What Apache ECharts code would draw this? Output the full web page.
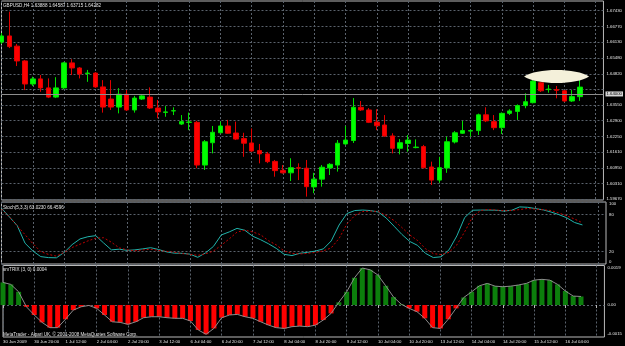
<!DOCTYPE html>
<html>
<head>
<meta charset="utf-8">
<script src="https://cdn.jsdelivr.net/npm/echarts@6/dist/echarts.min.js"></script>
<style>
  html, body { margin: 0; padding: 0; background: #000; }
  #chart { width: 625px; height: 346px; }
</style>
</head>
<body>
<div id="chart"></div>
<script>
  // GBPUSD H4 candles, 30 Jun 04:00 .. 16 Jul 12:00
  const opens = [1.6614, 1.6639, 1.6597, 1.6536, 1.6441, 1.6462, 1.6425, 1.6387, 1.6425, 1.6528,
    1.6507, 1.6484, 1.6486, 1.6429, 1.6379, 1.6346, 1.6399, 1.6334, 1.6379, 1.6387,
    1.6342, 1.6324, 1.6330, 1.6276, 1.6283, 1.6283, 1.6107, 1.6199, 1.6240, 1.6268,
    1.6239, 1.6216, 1.6198, 1.6167, 1.6153, 1.6122, 1.6085, 1.6075, 1.6096, 1.6094,
    1.6017, 1.6049, 1.6095, 1.6107, 1.6194, 1.6208, 1.6345, 1.6334, 1.6284, 1.6272,
    1.6227, 1.6176, 1.6196, 1.6179, 1.6183, 1.6099, 1.6045, 1.6095, 1.6202, 1.6238,
    1.6247, 1.6249, 1.6314, 1.6286, 1.6261, 1.6320, 1.6328, 1.6352, 1.6364, 1.6446,
    1.6418, 1.6418, 1.6413, 1.6371, 1.63888]
  const closes = [1.6639, 1.6595, 1.6536, 1.6441, 1.6462, 1.6425, 1.6387, 1.6425, 1.6528, 1.6507,
    1.6482, 1.6486, 1.6429, 1.6346, 1.6346, 1.6399, 1.6334, 1.6383, 1.6392, 1.6342,
    1.6326, 1.6326, 1.6331, 1.6286, 1.6284, 1.6107, 1.6203, 1.6242, 1.6268, 1.6238,
    1.6214, 1.6197, 1.6165, 1.6153, 1.6121, 1.6084, 1.6075, 1.6096, 1.6094, 1.6018,
    1.6049, 1.6098, 1.6110, 1.6197, 1.6210, 1.6345, 1.6334, 1.6283, 1.6269, 1.6227,
    1.6176, 1.6199, 1.6210, 1.6181, 1.6096, 1.6045, 1.6096, 1.6203, 1.6240, 1.6249,
    1.6249, 1.6314, 1.6289, 1.6261, 1.6320, 1.6330, 1.6352, 1.6368, 1.6453, 1.6413,
    1.6420, 1.6415, 1.6371, 1.6389, 1.64282]
  const lows = [1.6606, 1.6589, 1.6515, 1.6416, 1.6433, 1.6409, 1.6383, 1.6383, 1.6420, 1.6478,
    1.6464, 1.6450, 1.6425, 1.6323, 1.6334, 1.6320, 1.6330, 1.6323, 1.6375, 1.6338,
    1.6300, 1.6306, 1.6313, 1.6272, 1.6251, 1.6094, 1.6087, 1.6155, 1.6239, 1.6235,
    1.6210, 1.6141, 1.6161, 1.6114, 1.6115, 1.6059, 1.6072, 1.6041, 1.6045, 1.5977,
    1.5991, 1.6018, 1.6066, 1.6080, 1.6190, 1.6198, 1.6330, 1.6280, 1.6251, 1.6223,
    1.6155, 1.6151, 1.6162, 1.6176, 1.6093, 1.6025, 1.6034, 1.6075, 1.6196, 1.6235,
    1.6224, 1.6231, 1.6284, 1.6251, 1.6235, 1.6313, 1.6293, 1.6341, 1.6361, 1.6408,
    1.6405, 1.6382, 1.6367, 1.6367, 1.63715]
  const highs = [1.6651, 1.6739, 1.6606, 1.6540, 1.6471, 1.6478, 1.6464, 1.6469, 1.6532, 1.6543,
    1.6511, 1.6499, 1.6490, 1.6457, 1.6457, 1.6424, 1.6416, 1.6392, 1.6399, 1.6427,
    1.6375, 1.6350, 1.6345, 1.6313, 1.6323, 1.6289, 1.6210, 1.6268, 1.6286, 1.6293,
    1.6286, 1.6240, 1.6258, 1.6194, 1.6161, 1.6128, 1.6107, 1.6135, 1.6114, 1.6128,
    1.6075, 1.6107, 1.6115, 1.6210, 1.6268, 1.6383, 1.6371, 1.6342, 1.6337, 1.6313,
    1.6238, 1.6214, 1.6231, 1.6213, 1.6190, 1.6121, 1.6141, 1.6224, 1.6247, 1.6289,
    1.6254, 1.6319, 1.6345, 1.6313, 1.6324, 1.6337, 1.6357, 1.6403, 1.6474, 1.6450,
    1.6437, 1.6433, 1.6416, 1.6416, 1.64587]

  // Stoch(5,3,3)
  const stochMain = [90, 76, 62, 33.5, 20.9, 11.9, 10.3, 10, 18.8, 31.3,
    40.4, 44, 45.7, 34, 22.8, 23.9, 22, 22.8, 24.4, 26.3,
    23.4, 19.6, 17.5, 17.2, 15.9, 10.8, 18, 28.4, 46.9, 51.7,
    57.5, 54.4, 44.8, 39.2, 32.7, 25.2, 15.6, 13.6, 17.3, 18.8,
    20.9, 24.4, 37.2, 62.9, 81.4, 86.2, 87, 86.2, 83.8, 74.2,
    61, 47.7, 36.4, 30, 17.2, 10.4, 11.6, 22.8, 45.3, 75,
    86.7, 87, 87, 86.7, 85.4, 86.7, 92.1, 91.5, 89.4, 87.3,
    83.8, 79.6, 74.5, 66.9, 63.023]
  const stochSignal = [88.6, 75.9, 61.6, 47.3, 32.9, 19.9, 15.4, 12.7, 18.8, 26.6,
    31.9, 37.2, 41.7, 42.4, 35.1, 26, 22.8, 21.3, 22.8, 23.8,
    22, 20.4, 18.9, 16.9, 15.6, 14, 16.4, 20.9, 30.2, 40.4,
    51.4, 54.7, 51.7, 47.2, 37.7, 30.8, 20.9, 17.2, 16.2, 17.2,
    18.8, 21.2, 26, 41.2, 64.5, 78.2, 84.6, 85.4, 84.6, 78.2,
    70.1, 58.9, 46.9, 37.9, 24.7, 16.7, 15.2, 18.8, 30.8, 52,
    75.8, 86.2, 88, 87, 86, 86.3, 87.8, 89.6, 88.6, 87.5,
    86.2, 82.2, 77.8, 72.5, 66.4596]

  // smTRIX(3,0)
  const trix = [0.00116, 0.00106, 0.00068, -0.00009, -0.00051, -0.00089, -0.00116, -0.00116, -0.00073, -0.00026,
    -0.00009, -0.00002, -0.00017, -0.00051, -0.00086, -0.00089, -0.00099, -0.00086, -0.00065, -0.0006,
    -0.0006, -0.00065, -0.00068, -0.00068, -0.00082, -0.00128, -0.0015, -0.0012, -0.00065, -0.00051,
    -0.00048, -0.0006, -0.00068, -0.00086, -0.00103, -0.00116, -0.0012, -0.00111, -0.00108, -0.00111,
    -0.00103, -0.00077, -0.00043, 0.00014, 0.00068, 0.0014, 0.0019, 0.00181, 0.00154, 0.00099,
    0.00041, 0.00004, -0.00017, -0.00034, -0.00068, -0.00116, -0.0012, -0.00073, -0.00017, 0.00039,
    0.00068, 0.00099, 0.00111, 0.00097, 0.00094, 0.00097, 0.00103, 0.00111, 0.00128, 0.00132,
    0.00128, 0.00106, 0.00072, 0.00046, 0.00044]

  // labels under the time axis, one every 4 bars
  const timeLabels = ['30 Jun 2009', '30 Jun 20:00', '1 Jul 12:00', '2 Jul 04:00', '2 Jul 20:00',
    '3 Jul 12:00', '6 Jul 04:00', '6 Jul 20:00', '7 Jul 12:00', '8 Jul 04:00', '8 Jul 20:00',
    '9 Jul 12:00', '10 Jul 04:00', '10 Jul 20:00', '13 Jul 12:00', '14 Jul 04:00', '14 Jul 20:00',
    '15 Jul 12:00', '16 Jul 04:00']
  const priceTicks = ['1.67430', '1.66770', '1.66130', '1.65480', '1.64820', '1.63550',
    '1.62900', '1.62250', '1.61610', '1.60950', '1.60310', '1.59670']
  const priceHiddenTick = '1.64180'
  const stochTicks = ['0', '20', '80', '100']
  const trixTicks = ['-0.0015', '0.00', '0.0019']
  // the ellipse marker drawn over the last bars: [bar index, price]
  const ellipseAt = [71, 1.6472]

  const FONT = 'Liberation Sans'
  const TXT = '#e4e4e4'
  const GRIDC = '#5a626c'
  const BORDER = '#b9b9b9'
  const SLOTS = 78

  let slots = []
  for (let i = 0; i < SLOTS; i++) slots.push('b' + i)
  const every4 = (i) => i % 4 === 0

  function xAxisFor(gridIndex, bottom) {
    return {
      type: 'category', gridIndex: gridIndex, data: slots, boundaryGap: false,
      axisLine: { show: false },
      axisTick: { show: bottom, interval: every4, length: 3, lineStyle: { color: BORDER } },
      axisLabel: {
        show: bottom, interval: every4, align: 'left', margin: 3,
        formatter: (v, i) => timeLabels[i / 4] || '',
        color: TXT, fontSize: 4.3, fontFamily: FONT
      },
      splitLine: { show: true, interval: every4, lineStyle: { color: GRIDC, type: [2, 2], width: 1 } }
    }
  }

  const labelStyle = { color: TXT, fontSize: 4.3, fontFamily: FONT, margin: 3 }
  const titleStyle = { color: TXT, fontSize: 4.6, fontFamily: FONT, fontWeight: 'normal' }
  const last = opens.length - 1

  let myChart = echarts.init(document.getElementById('chart'))
  myChart.setOption({
    backgroundColor: '#000',
    animation: false,
    title: [
      { text: 'GBPUSD,H4 ' + [opens[last], highs[last], lows[last], closes[last]].map(v => v.toFixed(5)).join(' '),
        left: 3, top: 3, padding: 0, textStyle: titleStyle },
      { text: 'Stoch(5,3,3) ' + stochMain[last].toFixed(4) + ' ' + stochSignal[last].toFixed(4),
        left: 3, top: 205, padding: 0, textStyle: titleStyle },
      { text: 'smTRIX (3, 0) ' + trix[last].toFixed(4),
        left: 3, top: 267, padding: 0, textStyle: titleStyle },
      { text: 'MetaTrader - Alpari UK, \u00a9 2001-2008 MetaQuotes Software Corp.',
        left: 3, top: 332, padding: 0, textStyle: titleStyle }
    ],
    grid: [
      { left: 1.5, right: 19, top: 1, height: 199, show: true, borderColor: BORDER, borderWidth: 1, backgroundColor: 'transparent' },
      { left: 1.5, right: 19, top: 202, height: 62, show: true, borderColor: BORDER, borderWidth: 1, backgroundColor: 'transparent' },
      { left: 1.5, right: 19, top: 265.5, height: 71.5, show: true, borderColor: BORDER, borderWidth: 1, backgroundColor: 'transparent' }
    ],
    xAxis: [xAxisFor(0, false), xAxisFor(1, false), xAxisFor(2, true)],
    yAxis: [
      {
        type: 'value', gridIndex: 0, position: 'right', min: 1.5963, max: 1.6783,
        axisLine: { show: false },
        axisTick: { show: false, customValues: priceTicks.concat([priceHiddenTick]).map(Number) },
        axisLabel: Object.assign({ customValues: priceTicks.map(Number), formatter: v => v.toFixed(5) }, labelStyle),
        splitLine: { show: true, lineStyle: { color: GRIDC, type: [2, 2], width: 1 } }
      },
      {
        type: 'value', gridIndex: 1, position: 'right', min: 0, max: 100,
        axisLine: { show: false },
        axisTick: { show: false, customValues: stochTicks.map(Number) },
        axisLabel: Object.assign({ customValues: stochTicks.map(Number), formatter: v => String(v),
          verticalAlignMaxLabel: 'top', verticalAlignMinLabel: 'bottom' }, labelStyle),
        splitLine: { show: true, lineStyle: { color: GRIDC, type: [2, 2], width: 1 } }
      },
      {
        type: 'value', gridIndex: 2, position: 'right', min: -0.00164, max: 0.00203,
        axisLine: { show: false },
        axisTick: { show: false, customValues: [0] },
        axisLabel: Object.assign({ customValues: trixTicks.map(Number),
          formatter: v => trixTicks.find(t => Number(t) === v) || '' }, labelStyle),
        splitLine: { show: true, lineStyle: { color: GRIDC, type: [2, 2], width: 1 } }
      }
    ],
    series: [
      {
        type: 'candlestick', xAxisIndex: 0, yAxisIndex: 0, barWidth: 5,
        data: opens.map((o, i) => [o, closes[i], lows[i], highs[i]]),
        itemStyle: { color: '#00ff00', color0: '#ff0000', borderColor: '#00e000', borderColor0: '#e00000', borderWidth: 1 },
        markLine: {
          silent: true, symbol: 'none', animation: false,
          lineStyle: { color: '#8d8d8d', type: 'solid', width: 1 },
          label: { position: 'end', formatter: p => p.value.toFixed(5), color: '#000', backgroundColor: '#d6d6d6',
            fontSize: 4.3, fontFamily: FONT, padding: [1, 1, 0, 1], distance: 2 },
          data: [{ yAxis: closes[last] }]
        }
      },
      {
        type: 'scatter', xAxisIndex: 0, yAxisIndex: 0, z: 5,
        symbol: 'path://M0,6 C12,-1 52,-1 64,6 C52,13 12,13 0,6 Z',
        symbolSize: [65, 13], symbolKeepAspect: false,
        itemStyle: { color: '#f4f0da', opacity: 1 },
        data: [ellipseAt]
      },
      {
        type: 'line', xAxisIndex: 1, yAxisIndex: 1, data: stochMain, showSymbol: false,
        lineStyle: { color: '#20b2aa', width: 1 }
      },
      {
        type: 'line', xAxisIndex: 1, yAxisIndex: 1, data: stochSignal, showSymbol: false,
        lineStyle: { color: '#c00000', width: 1, type: [2, 2] }
      },
      {
        type: 'bar', xAxisIndex: 2, yAxisIndex: 2, data: trix, barWidth: 5,
        itemStyle: { color: p => (p.value >= 0 ? '#0c7f0c' : '#ff0000') }
      },
      {
        type: 'line', xAxisIndex: 2, yAxisIndex: 2, data: trix, showSymbol: false, z: 3,
        lineStyle: { color: '#8c8c8c', width: 1 }
      }
    ]
  })
</script>
</body>
</html>
